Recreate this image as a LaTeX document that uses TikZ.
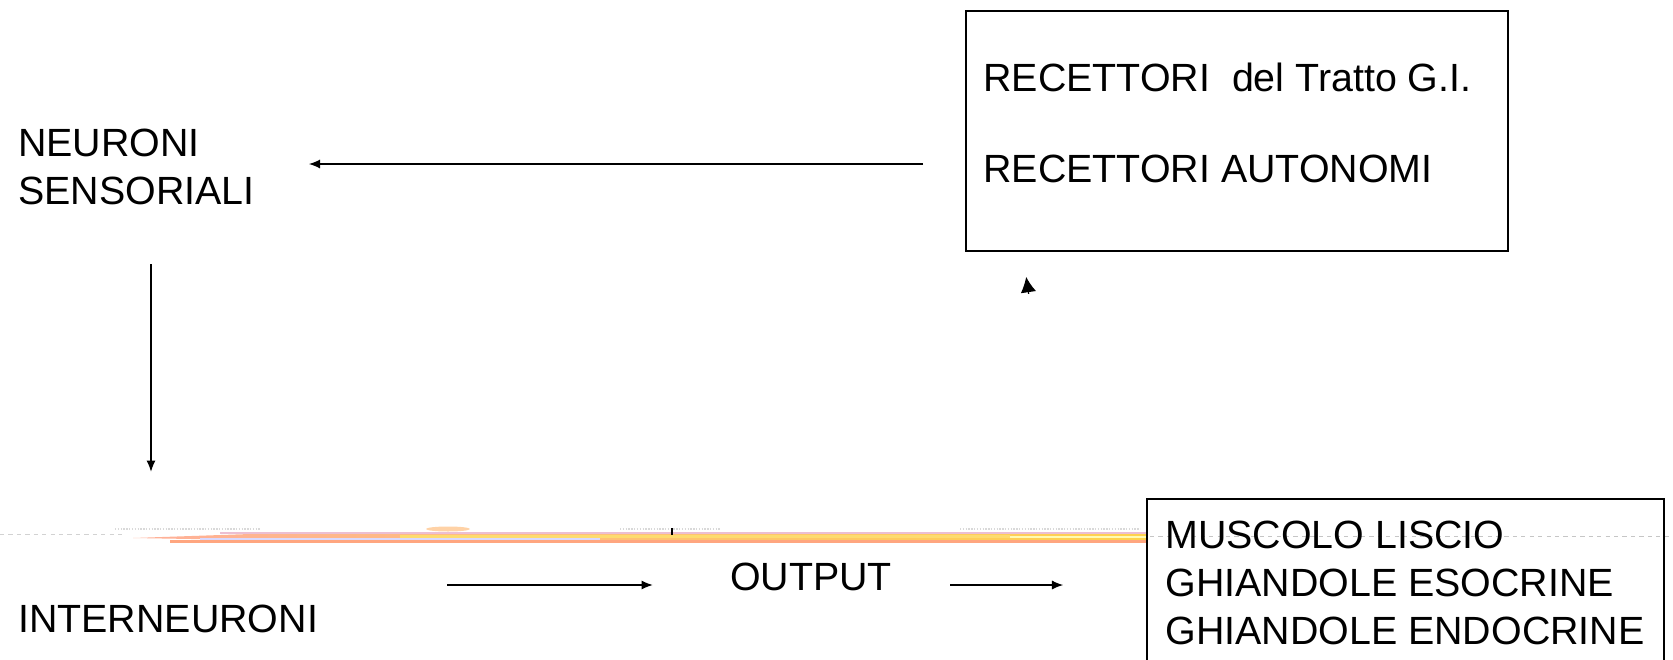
\documentclass[tikz,border=0pt]{standalone}
\usepackage{fontspec}
\setmainfont{Liberation Sans}
\usetikzlibrary{positioning,calc,arrows.meta}

\begin{document}
\begin{tikzpicture}[
    x=0.025cm, y=-0.025cm,
    every node/.style={font=\fontsize{28}{34}\selectfont, inner sep=0pt},
    txt/.style={align=left, anchor=west},
    box/.style={draw, line width=1.1pt},
    arrow/.style={-{Latex[length=8pt,width=6.5pt]}, line width=0.9pt}
]
    \useasboundingbox (0,0) rectangle (1673,659);

    % smeared line across the slide
    \draw[gray!35, dashed, line width=0.6pt] (0,534) -- (125,534);
    \draw[gray!30, densely dotted, line width=1pt] (115,529) -- (260,529) (620,529) -- (720,529) (960,529) -- (1140,529);
    \fill[orange!35] (448,529) ellipse (22 and 2.5);
    \draw[blue!30!red!25!white, line width=1.1pt] (220,533) -- (1147,533);
    \shade[left color=orange!45!red!40!white, right color=orange!50!yellow!70!white]
        (133,538) -- (250,534) -- (1147,534) -- (1147,540) -- (250,540) -- cycle;
    \draw[yellow!55!orange!55!white, line width=1.6pt] (400,536.5) -- (1010,536.5);
    \draw[blue!15!white, line width=0.8pt] (200,539) -- (600,539);
    \draw[white!70!yellow, line width=1pt] (1010,537) -- (1147,537);
    \draw[red!40!orange!50!white, line width=2pt] (170,541.5) -- (1147,541.5);
    \draw[line width=1.2pt] (672,528) -- (672,535);
    \draw[gray!45, dashed, line width=0.6pt] (1150,536) -- (1673,536);

    % nodes
    \node[box, minimum width=13.55cm, minimum height=6cm] (rec) at (1237,131) {};
    \node[txt] (rectxt) at ($(rec.west)+(18,-8)$) {RECETTORI\ \ del Tratto G.I.\\[31pt]RECETTORI AUTONOMI};
    \node[txt] (neu) at (18,167) {NEURONI\\SENSORIALI};
    \node[txt] (inter) at (18,619) {INTERNEURONI};
    \node (out) at (811,577) {OUTPUT};
    \node[box, minimum width=12.925cm, minimum height=4.4cm] (eff) at (1405.5,587) {};
    \node[txt] (efftxt) at ($(eff.west)+(19,-4)$) {MUSCOLO LISCIO\\GHIANDOLE ESOCRINE\\GHIANDOLE ENDOCRINE};

    % arrows
    \draw[arrow] ($(rec.west)+(-42,33)$) -- ($(neu.east)+(54,-3)$);
    \draw[arrow] ($(neu.south west)+(133,59)$) -- ($(inter.north west)+(133,-133)$);
    \draw[arrow] ($(inter.east)+(129,-34)$) -- ($(out.west)+(-77,8)$);
    \draw[arrow] ($(out.east)+(58,8)$) -- ($(eff.west)+(-83,-2)$);
    \draw[arrow, -{Latex[length=11pt,width=11pt]}] ($(rec.south west)+(63.5,42)$) -- ($(rec.south west)+(61,25)$);
\end{tikzpicture}
\end{document}
